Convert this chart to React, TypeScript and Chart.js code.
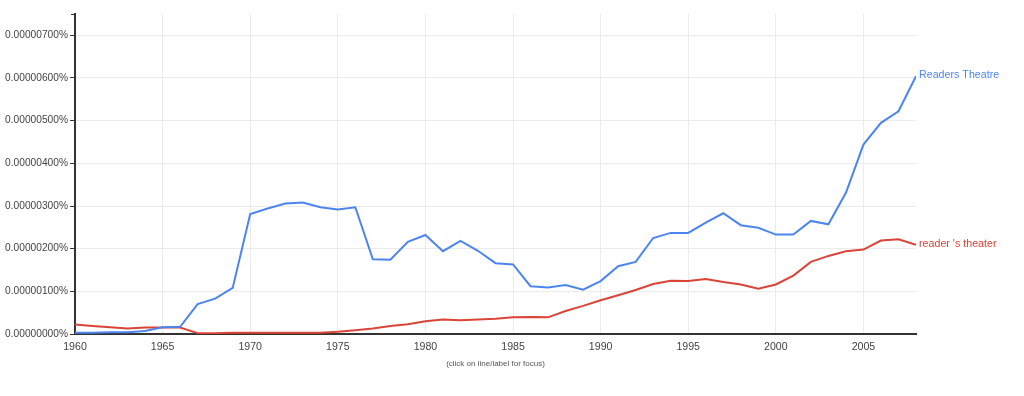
import React, { useEffect, useRef } from "react";
import { Chart, registerables } from "chart.js";

Chart.register(...registerables);

// Years 1960..2008
const years: number[] = [
  1960, 1961, 1962, 1963, 1964, 1965, 1966, 1967, 1968, 1969,
  1970, 1971, 1972, 1973, 1974, 1975, 1976, 1977, 1978, 1979,
  1980, 1981, 1982, 1983, 1984, 1985, 1986, 1987, 1988, 1989,
  1990, 1991, 1992, 1993, 1994, 1995, 1996, 1997, 1998, 1999,
  2000, 2001, 2002, 2003, 2004, 2005, 2006, 2007, 2008,
];

// Values in units of 0.000001 %
const readersTheatre: number[] = [
  0.03, 0.03, 0.04, 0.04, 0.07, 0.16, 0.17, 0.70, 0.83, 1.08,
  2.81, 2.94, 3.06, 3.08, 2.97, 2.92, 2.97, 1.75, 1.74, 2.16,
  2.32, 1.94, 2.18, 1.95, 1.66, 1.63, 1.12, 1.09, 1.15, 1.04,
  1.24, 1.59, 1.69, 2.25, 2.37, 2.37, 2.61, 2.83, 2.55, 2.49,
  2.33, 2.33, 2.65, 2.57, 3.31, 4.44, 4.95, 5.22, 6.04,
];

const readersTheater: number[] = [
  0.22, 0.19, 0.16, 0.13, 0.15, 0.15, 0.15, 0.02, 0.02, 0.03,
  0.03, 0.03, 0.03, 0.03, 0.03, 0.05, 0.09, 0.13, 0.19, 0.23,
  0.30, 0.34, 0.32, 0.34, 0.36, 0.39, 0.40, 0.39, 0.54, 0.66,
  0.79, 0.91, 1.03, 1.17, 1.25, 1.24, 1.29, 1.22, 1.16, 1.06,
  1.16, 1.37, 1.69, 1.83, 1.94, 1.98, 2.19, 2.22, 2.09,
];

const seriesNames: string[] = ["Readers Theatre", "reader 's theater"];
const seriesColors: string[] = ["#4d85f0", "#db4437"];

const xTicks: number[] = [1960, 1965, 1970, 1975, 1980, 1985, 1990, 1995, 2000, 2005];
const yTicks: number[] = [0, 1, 2, 3, 4, 5, 6, 7];
const footerText = "(click on line/label for focus)";

const FONT = "Arial, 'Liberation Sans', sans-serif";

export default function App() {
  const ref = useRef<HTMLCanvasElement | null>(null);

  useEffect(() => {
    if (!ref.current) return;
    const endLabels = {
      id: "endLabels",
      afterDatasetsDraw(chart: any) {
        const ctx = chart.ctx;
        ctx.save();
        ctx.font = `10.7px ${FONT}`;
        ctx.textBaseline = "middle";
        ctx.textAlign = "left";
        chart.data.datasets.forEach((ds: any, i: number) => {
          const meta = chart.getDatasetMeta(i);
          const pt = meta.data[meta.data.length - 1];
          ctx.fillStyle = ds.borderColor;
          ctx.fillText(ds.label, pt.x + 3, pt.y - 1);
        });
        const a = chart.chartArea;
        ctx.font = `8px ${FONT}`;
        ctx.fillStyle = "#555";
        ctx.textAlign = "center";
        ctx.fillText(footerText, (a.left + a.right) / 2, 364);
        // small cap at top of y axis
        ctx.strokeStyle = "#333";
        ctx.lineWidth = 1;
        ctx.beginPath();
        ctx.moveTo(a.left - 4, a.top + 0.5);
        ctx.lineTo(a.left, a.top + 0.5);
        ctx.stroke();
        ctx.restore();
      },
    };

    const mk = (vals: number[]) => years.map((y, i) => ({ x: y, y: vals[i] }));

    const chart = new Chart(ref.current, {
      type: "line",
      data: {
        datasets: [
          {
            label: seriesNames[0],
            data: mk(readersTheatre),
            borderColor: seriesColors[0],
            backgroundColor: seriesColors[0],
            borderWidth: 2,
            pointRadius: 0,
            tension: 0,
          },
          {
            label: seriesNames[1],
            data: mk(readersTheater),
            borderColor: seriesColors[1],
            backgroundColor: seriesColors[1],
            borderWidth: 2,
            pointRadius: 0,
            tension: 0,
          },
        ],
      },
      options: {
        animation: false,
        responsive: false,
        layout: { padding: { left: 0, top: 14, right: 108, bottom: 0 } },
        plugins: {
          legend: { display: false },
          tooltip: { enabled: false },
        },
        scales: {
          x: {
            type: "linear",
            min: 1960,
            max: 2008,
            afterBuildTicks: (s: any) => {
              s.ticks = xTicks.map((v) => ({ value: v }));
            },
            afterFit: (s: any) => {
              s.height = 62;
            },
            grid: {
              color: "#ebebeb",
              drawTicks: false,
            },
            border: { color: "#333", width: 2 },
            ticks: {
              padding: 7,
              color: "#444",
              font: { family: FONT, size: 10.6 },
              maxRotation: 0,
              callback: (v: any) => String(v),
            },
          },
          y: {
            type: "linear",
            min: 0,
            max: 7.5,
            afterBuildTicks: (s: any) => {
              s.ticks = yTicks.map((v) => ({ value: v }));
            },
            afterFit: (s: any) => {
              s.width = 75;
            },
            grid: {
              color: "#ebebeb",
              tickColor: "#333",
              tickLength: 5,
            },
            border: { color: "#333", width: 2 },
            ticks: {
              padding: 2,
              color: "#444",
              font: { family: FONT, size: 10.2 },
              callback: (v: any) => (Number(v) * 1e-6).toFixed(8) + "%",
            },
          },
        },
      },
      plugins: [endLabels],
    } as any);
    return () => chart.destroy();
  }, []);

  return (
    <div style={{ position: "fixed", left: 0, top: 0, width: 1024, height: 396, background: "#fff" }}>
      <canvas ref={ref} width={1024} height={396} style={{ display: "block" }} />
    </div>
  );
}
